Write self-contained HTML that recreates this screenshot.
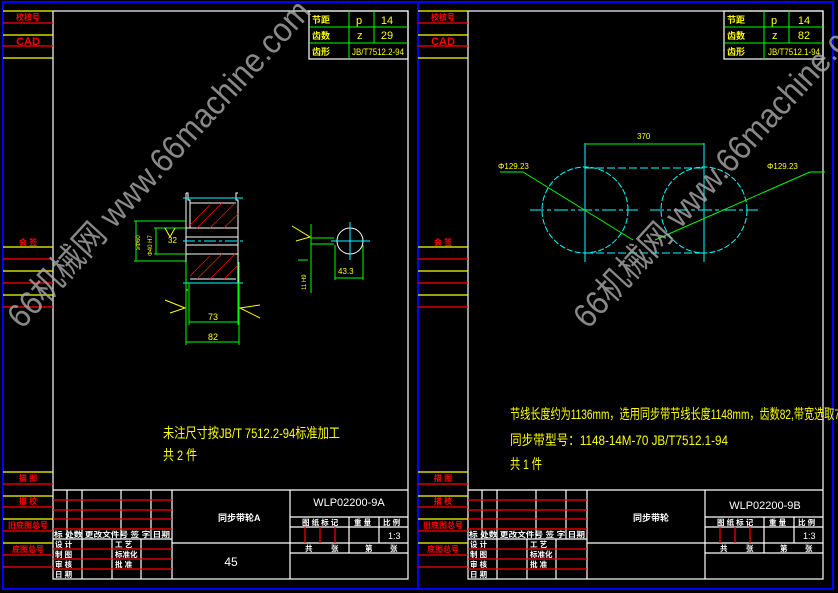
<!DOCTYPE html>
<html><head><meta charset="utf-8"><style>
html,body{margin:0;padding:0;background:#000;}
svg{display:block}
text{font-family:"Liberation Sans","Noto Sans CJK SC",sans-serif;}
</style></head><body>
<svg width="838" height="593" viewBox="0 0 838 593" xmlns="http://www.w3.org/2000/svg">
<rect width="838" height="593" fill="#000"/>
<defs>
<g id="sheet">
  <rect x="3" y="2" width="415" height="587" fill="none" stroke="#0000ff" stroke-width="2"/>
  <rect x="53" y="11" width="355" height="568" fill="none" stroke="#fff" stroke-width="1.2"/>
  <g stroke-width="1.2">
  <line x1="3" y1="11" x2="53" y2="11" stroke="#ff0"/>
  <line x1="3" y1="23" x2="53" y2="23" stroke="#f00"/>
  <line x1="3" y1="35" x2="53" y2="35" stroke="#ff0"/>
  <line x1="3" y1="46" x2="53" y2="46" stroke="#f00"/>
  <line x1="3" y1="58" x2="53" y2="58" stroke="#ff0"/>
  <line x1="3" y1="247" x2="53" y2="247" stroke="#ff0"/>
  <line x1="3" y1="259" x2="53" y2="259" stroke="#f00"/>
  <line x1="3" y1="271" x2="53" y2="271" stroke="#ff0"/>
  <line x1="3" y1="283" x2="53" y2="283" stroke="#f00"/>
  <line x1="3" y1="295" x2="53" y2="295" stroke="#ff0"/>
  <line x1="3" y1="307" x2="53" y2="307" stroke="#f00"/>
  <line x1="3" y1="472" x2="53" y2="472" stroke="#ff0"/>
  <line x1="3" y1="484" x2="53" y2="484" stroke="#f00"/>
  <line x1="3" y1="496" x2="53" y2="496" stroke="#ff0"/>
  <line x1="3" y1="507" x2="53" y2="507" stroke="#f00"/>
  <line x1="3" y1="519" x2="53" y2="519" stroke="#ff0"/>
  <line x1="3" y1="531" x2="53" y2="531" stroke="#f00"/>
  <line x1="3" y1="543" x2="53" y2="543" stroke="#ff0"/>
  <line x1="3" y1="555" x2="53" y2="555" stroke="#f00"/>
  <line x1="3" y1="567" x2="53" y2="567" stroke="#f00"/>
  </g>
  <g fill="#f00" font-size="8" text-anchor="middle" font-weight="bold">
  <text x="28" y="20">校核号</text>
  <text x="28" y="45" font-size="11" font-family="Liberation Serif">CAD</text>
  <text x="28" y="245">会  签</text>
  <text x="28" y="481">描  图</text>
  <text x="28" y="504">描  校</text>
  <text x="28" y="528">旧底图总号</text>
  <text x="28" y="552">底图总号</text>
  </g>
  <rect x="309" y="11" width="99" height="48" fill="none" stroke="#fff" stroke-width="1.2"/>
  <g stroke="#0f0" stroke-width="1">
  <line x1="349" y1="11" x2="349" y2="59"/><line x1="374" y1="11" x2="374" y2="43"/>
  <line x1="309" y1="27" x2="408" y2="27"/><line x1="309" y1="43" x2="408" y2="43"/>
  </g>
  <g fill="#ff0" font-size="9">
  <text x="312" y="23" font-weight="bold">节距</text>
  <text x="312" y="39" font-weight="bold">齿数</text>
  <text x="312" y="55" font-weight="bold">齿形</text>
  <text x="356" y="24" font-size="11">p</text>
  <text x="357" y="39" font-size="11">z</text>
  </g>
  <g stroke="#fff" stroke-width="1.2" fill="none">
  <line x1="53" y1="490" x2="408" y2="490"/>
  <line x1="172" y1="490" x2="172" y2="579"/>
  <line x1="290" y1="490" x2="290" y2="579"/>
  <line x1="67" y1="490" x2="67" y2="539"/>
  <line x1="82" y1="490" x2="82" y2="579"/>
  <line x1="121" y1="490" x2="121" y2="539"/>
  <line x1="151" y1="490" x2="151" y2="539"/>
  <line x1="53" y1="539" x2="172" y2="539"/>
  <line x1="112" y1="539" x2="112" y2="579"/>
  <line x1="141" y1="539" x2="141" y2="579"/>
  <line x1="172" y1="543" x2="290" y2="543"/>
  <line x1="290" y1="517" x2="408" y2="517"/>
  <line x1="290" y1="527" x2="408" y2="527"/>
  <line x1="290" y1="543" x2="408" y2="543"/>
  <line x1="290" y1="553" x2="408" y2="553"/>
  <line x1="349" y1="517" x2="349" y2="553"/>
  <line x1="379" y1="517" x2="379" y2="543"/>
  </g>
  <g stroke="#f00" stroke-width="1.2">
  <line x1="53" y1="500" x2="172" y2="500"/>
  <line x1="53" y1="510" x2="172" y2="510"/>
  <line x1="53" y1="519" x2="172" y2="519"/>
  <line x1="53" y1="529" x2="172" y2="529"/>
  <line x1="53" y1="549" x2="172" y2="549"/>
  <line x1="53" y1="559" x2="172" y2="559"/>
  <line x1="53" y1="569" x2="172" y2="569"/>
  <line x1="305" y1="527" x2="305" y2="543"/>
  <line x1="320" y1="527" x2="320" y2="543"/>
  <line x1="335" y1="527" x2="335" y2="543"/>
  </g>
  <g fill="#fff" font-size="7.5" font-weight="bold">
  <text x="54" y="537" textLength="116" lengthAdjust="spacingAndGlyphs">标 处数 更改文件号  签 字  日期</text>
  <text x="55" y="547">设  计</text><text x="55" y="557">制  图</text>
  <text x="55" y="567">审  核</text><text x="55" y="577">日  期</text>
  <text x="115" y="547">工  艺</text><text x="115" y="557">标准化</text>
  <text x="115" y="567">批  准</text>
  <text x="302" y="525">图 纸 标 记</text>
  <text x="354" y="525">重 量</text>
  <text x="383" y="525">比 例</text>
  <text x="305" y="551">共</text><text x="331" y="551">张</text>
  <text x="365" y="551">第</text><text x="390" y="551">张</text>
  </g>
  <text x="388" y="539" fill="#fff" font-size="9">1:3</text>
</g>
</defs>
<use href="#sheet"/>
<use href="#sheet" x="415"/>

<g fill="#ff0" font-size="11">
<text x="387" y="24" text-anchor="middle">14</text>
<text x="387" y="39" text-anchor="middle">29</text>
<text x="352" y="55" font-size="9" textLength="52" lengthAdjust="spacingAndGlyphs">JB/T7512.2-94</text>
</g>
<text x="218" y="521" fill="#fff" font-size="9" font-weight="bold">同步带轮A</text>
<text x="231" y="566" fill="#fff" font-size="12" text-anchor="middle">45</text>
<text x="349" y="506" fill="#fff" font-size="11" text-anchor="middle">WLP02200-9A</text>
<text x="163" y="438" fill="#ff0" font-size="14" textLength="177" lengthAdjust="spacingAndGlyphs">未注尺寸按JB/T 7512.2-94标准加工</text>
<text x="163" y="460" fill="#ff0" font-size="14" textLength="34" lengthAdjust="spacingAndGlyphs">共 2 件</text>

<g fill="none" stroke-width="1">
<path d="M186,193 L188,193 L188,200 L190,200 L190,228 M238,193 L236,193 L236,200 L238,200 L238,290" stroke="#fff"/>
<path d="M186,193 L186,290 L188,290" stroke="#fff"/>
<line x1="190" y1="203" x2="236" y2="203" stroke="#fff"/>
<line x1="186" y1="228" x2="238" y2="228" stroke="#fff"/>
<line x1="186" y1="237" x2="238" y2="237" stroke="#fff"/>
<line x1="186" y1="245" x2="238" y2="245" stroke="#fff"/>
<line x1="186" y1="254" x2="238" y2="254" stroke="#fff"/>
<line x1="190" y1="279" x2="236" y2="279" stroke="#fff"/>
<line x1="183" y1="198" x2="243" y2="198" stroke="#0ff"/>
<line x1="183" y1="241" x2="243" y2="241" stroke="#0ff" stroke-dasharray="12,3,3,3"/>
<line x1="183" y1="283" x2="243" y2="283" stroke="#0ff"/>
<g stroke="#f00" stroke-width="0.8">
<line x1="190" y1="225" x2="210" y2="205"/><line x1="197" y1="228" x2="222" y2="203"/>
<line x1="210" y1="228" x2="235" y2="203"/><line x1="224" y1="228" x2="238" y2="214"/>
<line x1="190" y1="276" x2="210" y2="256"/><line x1="197" y1="279" x2="222" y2="254"/>
<line x1="210" y1="279" x2="235" y2="254"/><line x1="224" y1="279" x2="238" y2="265"/>
</g>
<g stroke="#0f0">
<line x1="134" y1="221" x2="186" y2="221"/><line x1="134" y1="261" x2="186" y2="261"/>
<line x1="136" y1="221" x2="136" y2="261"/>
<line x1="154" y1="228" x2="186" y2="228"/><line x1="154" y1="254" x2="186" y2="254"/>
<line x1="156" y1="228" x2="156" y2="254"/>
<line x1="186" y1="262" x2="186" y2="345"/><line x1="239" y1="262" x2="239" y2="345"/>
<line x1="189" y1="283" x2="189" y2="325"/><line x1="238" y1="283" x2="238" y2="325"/>
<line x1="189" y1="322" x2="238" y2="322"/><line x1="186" y1="342" x2="239" y2="342"/>
<line x1="311" y1="224" x2="311" y2="293"/>
<line x1="311" y1="238" x2="334" y2="238"/><line x1="311" y1="244" x2="334" y2="244"/>
<line x1="335" y1="245" x2="335" y2="280"/><line x1="363" y1="245" x2="363" y2="280"/>
<line x1="335" y1="278" x2="363" y2="278"/>
<line x1="298" y1="260" x2="308" y2="260"/>
</g>
<polyline points="165,228 170,237 175,228" stroke="#ff0"/>
<polyline points="165,300 185,308 170,313" stroke="#ff0"/>
<polyline points="260,305 240,308 260,318" stroke="#ff0"/>
<polyline points="292,226 310,237 296,241" stroke="#ff0"/>
<circle cx="350" cy="241" r="13" stroke="#fff"/>
<line x1="331" y1="241" x2="370" y2="241" stroke="#0ff"/>
<line x1="350" y1="222" x2="350" y2="260" stroke="#0ff"/>
</g>
<g fill="#ff0" font-size="9">
<text x="208" y="320">73</text>
<text x="208" y="340">82</text>
<text x="168" y="243" font-size="8">32</text>
<text x="338" y="274" font-size="8">43.3</text>
<text x="140" y="250" font-size="6" transform="rotate(-90 140 250)">≥Φ60</text>
<text x="152" y="256" font-size="6" transform="rotate(-90 152 256)">Φ40 H7</text>
<text x="306" y="290" font-size="6" transform="rotate(-90 306 290)">11 H9</text>
</g>

<g fill="#ff0" font-size="11">
<text x="804" y="24" text-anchor="middle">14</text>
<text x="804" y="39" text-anchor="middle">82</text>
<text x="768" y="55" font-size="9" textLength="52" lengthAdjust="spacingAndGlyphs">JB/T7512.1-94</text>
</g>
<text x="633" y="521" fill="#fff" font-size="9" font-weight="bold">同步带轮</text>
<text x="765" y="509" fill="#fff" font-size="11" text-anchor="middle">WLP02200-9B</text>
<text x="510" y="419" fill="#ff0" font-size="14" textLength="330" lengthAdjust="spacingAndGlyphs">节线长度约为1136mm，选用同步带节线长度1148mm，齿数82,带宽选取7</text>
<text x="510" y="445" fill="#ff0" font-size="14" textLength="218" lengthAdjust="spacingAndGlyphs">同步带型号：1148-14M-70  JB/T7512.1-94</text>
<text x="510" y="469" fill="#ff0" font-size="14" textLength="32" lengthAdjust="spacingAndGlyphs">共 1 件</text>

<g fill="none" stroke="#0ff" stroke-width="1">
<circle cx="585" cy="210" r="43" stroke-dasharray="6,2"/>
<circle cx="704" cy="210" r="43" stroke-dasharray="6,2"/>
<line x1="585" y1="168" x2="704" y2="168" stroke-dasharray="8,3"/>
<line x1="585" y1="253" x2="704" y2="253" stroke-dasharray="8,3"/>
<line x1="585" y1="143" x2="585" y2="262"/>
<line x1="704" y1="143" x2="704" y2="262"/>
<line x1="530" y1="210" x2="638" y2="210" stroke-dasharray="14,3,4,3"/>
<line x1="650" y1="210" x2="758" y2="210" stroke-dasharray="14,3,4,3"/>
</g>
<g stroke="#0f0" stroke-width="1" fill="none">
<line x1="585" y1="144" x2="704" y2="144"/>
<line x1="500" y1="172" x2="523" y2="172"/><line x1="523" y1="172" x2="633" y2="240"/>
<line x1="825" y1="172" x2="810" y2="172"/><line x1="810" y1="172" x2="655" y2="240"/>
</g>
<g fill="#ff0" font-size="8">
<text x="637" y="139">370</text>
<text x="498" y="169">Φ129.23</text>
<text x="767" y="169">Φ129.23</text>
</g>

<g fill="#aaa" fill-opacity="0.8" font-size="34">
<text x="0" y="0" textLength="430" lengthAdjust="spacingAndGlyphs" transform="translate(22,330) rotate(-47.5)">66机械网 www.66machine.com</text>
<text x="0" y="0" textLength="430" lengthAdjust="spacingAndGlyphs" transform="translate(588,330) rotate(-47.5)">66机械网 www.66machine.com</text>
</g>
</svg>
</body></html>
